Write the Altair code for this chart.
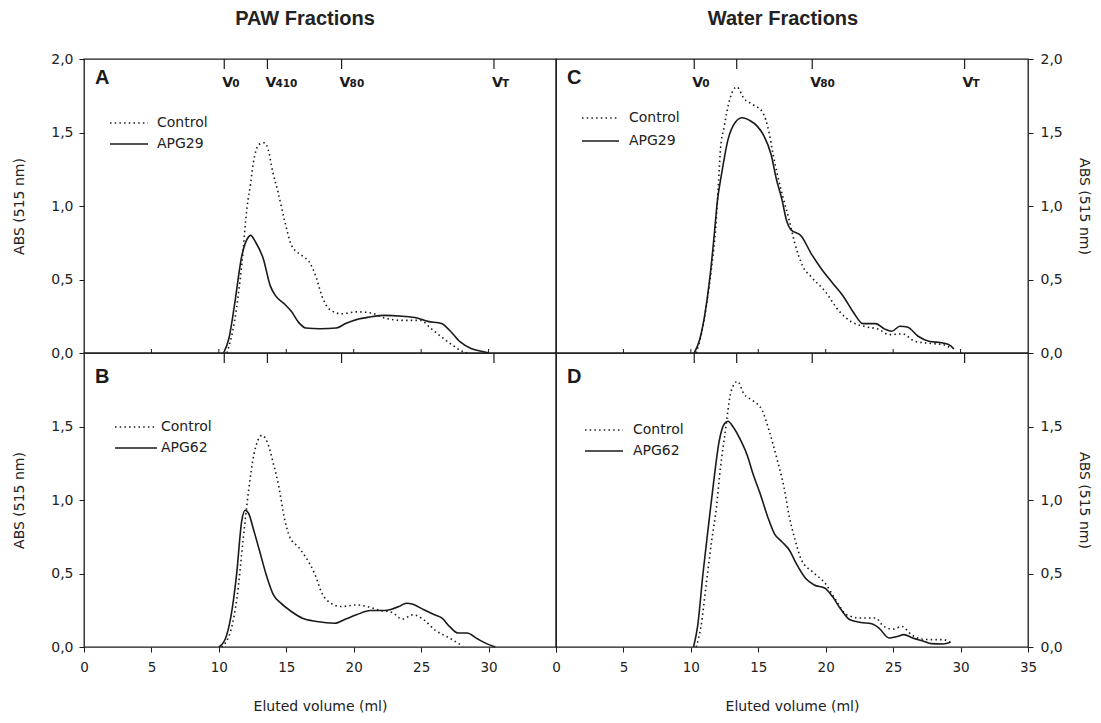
import altair as alt
import pandas as pd

FONT = "DejaVu Sans"
BOLD_FONT = "Liberation Sans"
INK = "#1a1a1a"
W, H = 472, 294

# ---------------- data ----------------
# Panel A: PAW fractions, Control vs APG29
a_ctrl_x = [10.6, 11.15, 11.7, 12.1, 12.35, 12.55, 13.0, 13.4, 13.67, 14.0, 14.4, 14.9, 15.4, 16.2, 16.7,
            17.2, 17.65, 18.3, 19.1, 20.2, 21.2, 22.3, 23.6, 24.95, 25.75, 26.5, 27.35, 27.9, 28.4]
a_ctrl_y = [0, 0.21, 0.6, 1.0, 1.15, 1.29, 1.42, 1.43, 1.38, 1.23, 1.09, 0.89, 0.73, 0.66, 0.62,
            0.52, 0.385, 0.29, 0.267, 0.28, 0.274, 0.238, 0.222, 0.222, 0.165, 0.11, 0.052, 0.018, 0]
a_trt_x = [10.35, 10.75, 11.15, 11.7, 12.2, 12.35, 12.75, 13.3, 13.8, 14.2, 14.85, 15.4, 15.9, 16.45, 17.5,
           18.7, 19.4, 20.2, 21.2, 22.3, 23.6, 24.7, 25.5, 26.5, 27.1, 27.9, 28.7, 29.7, 30.0]
a_trt_y = [0, 0.10, 0.32, 0.66, 0.79, 0.80, 0.75, 0.64, 0.46, 0.39, 0.335, 0.28, 0.21, 0.17, 0.165,
           0.17, 0.2, 0.227, 0.245, 0.256, 0.25, 0.238, 0.215, 0.2, 0.155, 0.075, 0.03, 0.007, 0]

# Panel B: PAW fractions, Control vs APG62
b_ctrl_x = [10.2, 10.9, 11.35, 11.8, 12.2, 12.6, 13.2, 13.6, 14.05, 14.45, 14.85, 15.25, 15.9, 16.45,
            17.1, 17.65, 18.3, 19.1, 20.2, 21.0, 22.0, 22.85, 23.6, 24.4, 25.2, 26.0, 27.1, 28.1]
b_ctrl_y = [0, 0.117, 0.34, 0.73, 1.06, 1.31, 1.44, 1.39, 1.245, 1.09, 0.88, 0.75, 0.68, 0.61,
            0.5, 0.365, 0.298, 0.275, 0.286, 0.275, 0.248, 0.235, 0.19, 0.219, 0.185, 0.117, 0.061, 0.005]
b_trt_x = [10.0, 10.5, 10.9, 11.3, 11.7, 11.95, 12.2, 12.6, 13.0, 13.55, 14.05, 14.6, 15.4, 16.2, 17.25,
           18.6, 19.4, 20.2, 21.25, 22.3, 22.8, 23.35, 23.9, 24.4, 25.2, 26.0, 26.55, 27.1, 27.75, 28.4,
           29.2, 29.85, 30.5]
b_trt_y = [0, 0.06, 0.21, 0.48, 0.86, 0.93, 0.91, 0.79, 0.66, 0.48, 0.354, 0.298, 0.24, 0.196, 0.174,
           0.162, 0.19, 0.219, 0.248, 0.248, 0.257, 0.275, 0.298, 0.291, 0.253, 0.219, 0.196, 0.14, 0.095,
           0.095, 0.054, 0.023, 0]

# Panel C: Water fractions, Control vs APG29
c_ctrl_x = [10.4, 10.8, 11.15, 11.55, 11.85, 12.1, 12.2, 12.45, 12.9, 13.4, 13.95, 14.6, 15.3, 15.8, 16.1,
            16.45, 16.8, 17.3, 17.7, 18.3, 18.9, 19.95, 21.0, 21.95, 22.9, 23.95, 24.7, 25.7, 26.6, 27.9,
            28.7, 29.25]
c_ctrl_y = [0, 0.136, 0.32, 0.59, 0.86, 1.24, 1.39, 1.53, 1.73, 1.81, 1.73, 1.69, 1.64, 1.5, 1.35,
            1.2, 1.07, 0.9, 0.75, 0.59, 0.52, 0.42, 0.284, 0.21, 0.18, 0.16, 0.125, 0.13, 0.08, 0.064,
            0.057, 0.034]
c_trt_x = [10.25, 10.65, 11.05, 11.45, 11.75, 11.95, 12.3, 12.75, 13.3, 13.8, 14.4, 14.9, 15.4, 15.95,
           16.35, 16.75, 17.1, 17.4, 18.2, 18.9, 19.7, 20.5, 21.3, 22.1, 22.75, 23.7, 24.35, 24.9, 25.5,
           26.05, 26.85, 27.65, 28.7, 29.25, 29.5]
c_trt_y = [0, 0.09, 0.27, 0.545, 0.82, 1.02, 1.23, 1.45, 1.57, 1.6, 1.58, 1.545, 1.48, 1.35,
           1.18, 1.045, 0.9, 0.84, 0.795, 0.68, 0.57, 0.477, 0.386, 0.27, 0.2, 0.2, 0.164, 0.148, 0.182,
           0.177, 0.114, 0.08, 0.068, 0.05, 0.027]

# Panel D: Water fractions, Control vs APG62
d_ctrl_x = [10.4, 10.75, 11.15, 11.55, 11.9, 12.2, 12.5, 13.0, 13.45, 13.95, 14.6, 15.3, 15.8, 16.35, 16.9,
            17.3, 17.7, 18.2, 19.0, 19.95, 20.75, 21.55, 22.6, 23.7, 24.3, 25.0, 25.65, 26.35, 27.1, 27.9,
            28.7, 29.25]
d_ctrl_y = [0, 0.14, 0.434, 0.727, 0.953, 1.224, 1.43, 1.744, 1.807, 1.72, 1.676, 1.608, 1.473, 1.292,
            1.089, 0.885, 0.739, 0.592, 0.513, 0.434, 0.32, 0.219, 0.197, 0.197, 0.14, 0.122, 0.14, 0.084,
            0.054, 0.05, 0.05, 0.032]
d_trt_x = [10.2, 10.5, 10.9, 11.3, 11.7, 12.1, 12.5, 12.75, 13.15, 13.7, 14.2, 14.6, 15.15, 15.7, 16.2,
           16.75, 17.3, 17.8, 18.5, 19.15, 19.95, 20.5, 21.15, 21.8, 22.6, 23.4, 23.95, 24.7, 25.3, 25.8,
           26.45, 27.3, 27.8, 28.7, 29.25]
d_trt_y = [0, 0.14, 0.5, 0.82, 1.13, 1.4, 1.52, 1.536, 1.495, 1.405, 1.3, 1.18, 1.04, 0.885, 0.77,
           0.716, 0.66, 0.57, 0.468, 0.422, 0.4, 0.343, 0.253, 0.185, 0.167, 0.158, 0.129, 0.061, 0.072,
           0.084, 0.061, 0.038, 0.023, 0.02, 0.032]

# Column markers (void / calibration volumes)
paw_marker_x = [10.4, 13.6, 19.1, 30.4]
paw_marker_sub = ["0", "410", "80", "T"]
water_marker_x = [10.25, 13.4, 19.0, 30.3]
water_marker_sub = ["0", "", "80", "T"]

x_ticks = [0, 5, 10, 15, 20, 25, 30, 35]
inner_ticks = [5, 10, 15, 20, 25, 30]
y_ticks_top = [0, 0.5, 1.0, 1.5, 2.0]
y_ticks_bottom = [0, 0.5, 1.0, 1.5]

titles = ["PAW Fractions", "Water Fractions"]
letters = ["A", "B", "C", "D"]
ctrl_name = "Control"
trt_names = ["APG29", "APG62", "APG29", "APG62"]

XS = alt.Scale(domain=[0, 35], nice=False, zero=False)
YS = alt.Scale(domain=[0, 2], nice=False)
COMMA = "replace(format(datum.value, '.1f'), '.', ',')"


def panel(ctrl_x, ctrl_y, trt_x, trt_y, trt_name, letter, markers, subs, side, row,
          letter_y, leg):
    if row == "top":
        xaxis = alt.Axis(labels=False, ticks=False, title=None, domain=False, grid=False)
        yvals = y_ticks_top
    else:
        lab = "datum.value == 35 ? '' : datum.label" if side == "left" else "datum.label"
        xaxis = alt.Axis(values=x_ticks, labelExpr=lab, title="Eluted volume (ml)", grid=False,
                         tickSize=5, tickColor=INK, domain=False, labelFont=FONT, labelFontSize=13.5,
                         labelColor="#222", labelPadding=8, labelFlush=False, titleFont=FONT,
                         titleFontSize=14, titleFontWeight="normal", titleColor="#222", titlePadding=26)
        yvals = y_ticks_bottom
    yaxis = alt.Axis(orient=side, values=yvals, labelExpr=COMMA, title="ABS (515 nm)", grid=False,
                     tickSize=5, tickColor=INK, domain=False, labelFont=FONT, labelFontSize=14,
                     labelColor="#222", labelPadding=6 if side == "left" else 7, labelFlush=False,
                     titleFont=FONT, titleFontSize=14, titleFontWeight="normal", titleColor="#222",
                     titlePadding=24 if side == "left" else 14)

    ctrl = alt.Chart(pd.DataFrame({"x": ctrl_x, "y": ctrl_y})).mark_line(
        color=INK, strokeWidth=1.6, strokeDash=[1.5, 3.2], interpolate="monotone"
    ).encode(x=alt.X("x:Q", scale=XS, axis=xaxis), y=alt.Y("y:Q", scale=YS, axis=yaxis))
    trt = alt.Chart(pd.DataFrame({"x": trt_x, "y": trt_y})).mark_line(
        color=INK, strokeWidth=1.6, interpolate="monotone"
    ).encode(x=alt.X("x:Q", scale=XS), y=alt.Y("y:Q", scale=YS))

    mk = pd.DataFrame({"x": markers, "sub": subs})
    vtick = alt.Chart(mk).mark_rule(color=INK, strokeWidth=1.2).encode(
        x=alt.X("x:Q", scale=XS), y=alt.value(0), y2=alt.value(10))
    layers = [ctrl, trt, vtick]

    if row == "top":
        lab_df = mk[mk["sub"] != ""]
        vtxt = alt.Chart(lab_df).mark_text(
            text="V", align="left", baseline="alphabetic", dx=-2, font=FONT, fontWeight="bold",
            fontSize=14, color=INK).encode(x=alt.X("x:Q", scale=XS), y=alt.value(28))
        vsub = alt.Chart(lab_df).mark_text(
            align="left", baseline="alphabetic", dx=8, font=FONT, fontWeight="bold",
            fontSize=10.5, color=INK).encode(x=alt.X("x:Q", scale=XS), y=alt.value(28), text="sub:N")
        itick = alt.Chart(pd.DataFrame({"x": inner_ticks})).mark_rule(color=INK, strokeWidth=1).encode(
            x=alt.X("x:Q", scale=XS), y=alt.value(H), y2=alt.value(H - 4))
        layers += [vtxt, vsub, itick]

    let = alt.Chart(pd.DataFrame({"t": [letter]})).mark_text(
        align="left", baseline="alphabetic", font=BOLD_FONT, fontWeight="bold", fontSize=20, color=INK
    ).encode(x=alt.value(11), y=alt.value(letter_y), text="t:N")
    layers.append(let)

    lx0, lx1, ltx, ly0, ly1 = leg
    one = pd.DataFrame({"t": [ctrl_name]})
    two = pd.DataFrame({"t": [trt_name]})
    layers += [
        alt.Chart(one).mark_rule(color=INK, strokeWidth=1.4, strokeDash=[1.5, 3.2]).encode(
            x=alt.value(lx0), x2=alt.value(lx1), y=alt.value(ly0)),
        alt.Chart(two).mark_rule(color=INK, strokeWidth=1.4).encode(
            x=alt.value(lx0), x2=alt.value(lx1), y=alt.value(ly1)),
        alt.Chart(one).mark_text(align="left", baseline="middle", font=FONT, fontSize=14, color="#222").encode(
            x=alt.value(ltx), y=alt.value(ly0), text="t:N"),
        alt.Chart(two).mark_text(align="left", baseline="middle", font=FONT, fontSize=14, color="#222").encode(
            x=alt.value(ltx), y=alt.value(ly1), text="t:N"),
    ]
    return alt.layer(*layers).properties(width=W, height=H)


pA = panel(a_ctrl_x, a_ctrl_y, a_trt_x, a_trt_y, trt_names[0], letters[0], paw_marker_x, paw_marker_sub,
           "left", "top", 25, (26, 64, 73, 64, 85)).properties(
    title=alt.TitleParams(titles[0], font=BOLD_FONT, fontSize=20, fontWeight="bold", color="#222",
                          anchor="middle", offset=23, dx=-15))
pC = panel(c_ctrl_x, c_ctrl_y, c_trt_x, c_trt_y, trt_names[2], letters[2], water_marker_x, water_marker_sub,
           "right", "top", 25, (26, 63, 73, 59, 82)).properties(
    title=alt.TitleParams(titles[1], font=BOLD_FONT, fontSize=20, fontWeight="bold", color="#222",
                          anchor="middle", offset=23, dx=-9))
pB = panel(b_ctrl_x, b_ctrl_y, b_trt_x, b_trt_y, trt_names[1], letters[1], paw_marker_x, paw_marker_sub,
           "left", "bottom", 30, (31, 73, 77, 74, 95))
pD = panel(d_ctrl_x, d_ctrl_y, d_trt_x, d_trt_y, trt_names[3], letters[3], water_marker_x, water_marker_sub,
           "right", "bottom", 30, (29, 67, 77, 77, 98))

chart = alt.concat(pA, pC, pB, pD, columns=2, spacing=0, bounds="flush").properties(
    padding={"left": 4, "top": 0, "right": 2, "bottom": 0},
    background="white",
).configure_view(stroke=INK, strokeWidth=1.3)

chart.save("out.html", embed_options={"renderer": "svg", "actions": False})
